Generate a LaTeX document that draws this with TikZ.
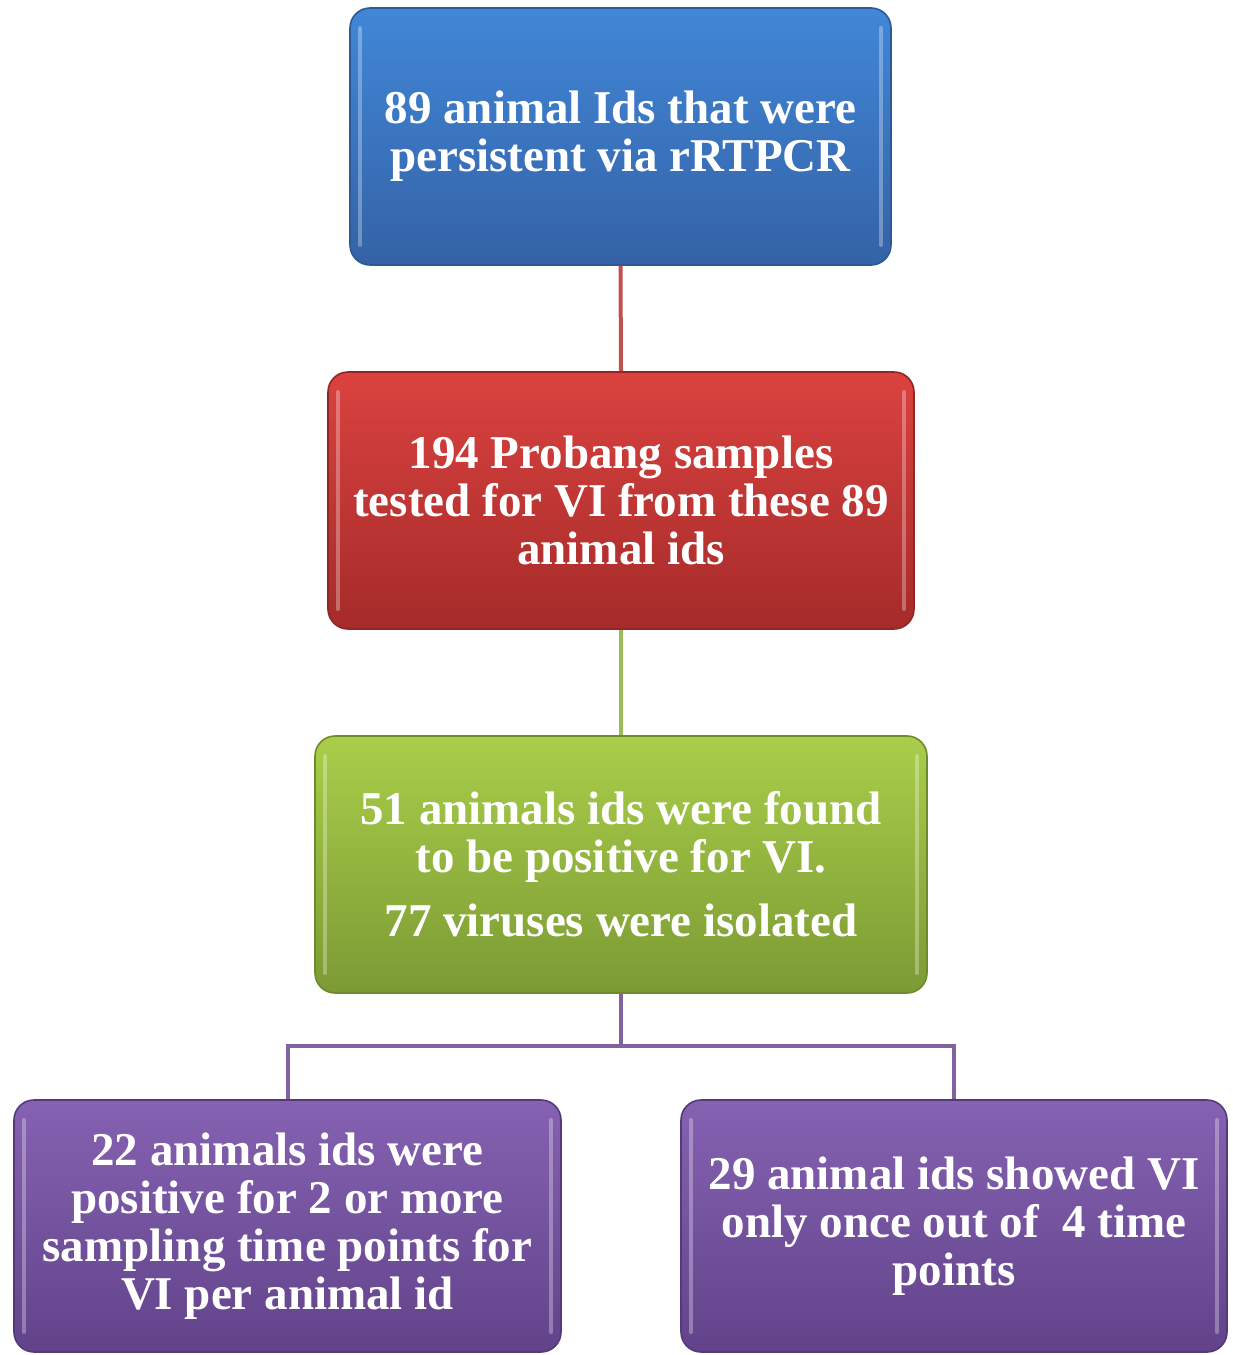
\documentclass[tikz,border=0pt]{standalone}
\usepackage{fontspec}
\setmainfont{Liberation Serif}
\usetikzlibrary{positioning}
\definecolor{bTop}{HTML}{4187D8}\definecolor{bBot}{HTML}{3462A6}\definecolor{bEdge}{HTML}{2C5A96}
\definecolor{rTop}{HTML}{DA423F}\definecolor{rBot}{HTML}{A52B2A}\definecolor{rEdge}{HTML}{922624}
\definecolor{gTop}{HTML}{A9CE4A}\definecolor{gBot}{HTML}{7C9A34}\definecolor{gEdge}{HTML}{6E8A2C}
\definecolor{pTop}{HTML}{8562B2}\definecolor{pBot}{HTML}{62438A}\definecolor{pEdge}{HTML}{553A7A}
\definecolor{rLine}{HTML}{C0504D}\definecolor{gLine}{HTML}{9BBB59}\definecolor{pLine}{HTML}{8064A2}
\tikzset{
  box/.style={rounded corners=10pt, line width=0.8pt, text=white, align=center,
    font=\fontsize{23.5}{24}\selectfont\bfseries, inner sep=0pt,
    path picture={
      \draw[white, opacity=0.3, line width=2pt, line cap=round]
        ([xshift=5pt,yshift=-10pt]path picture bounding box.north west) --
        ([xshift=5pt,yshift=10pt]path picture bounding box.south west);
      \draw[white, opacity=0.3, line width=2pt, line cap=round]
        ([xshift=-5pt,yshift=-10pt]path picture bounding box.north east) --
        ([xshift=-5pt,yshift=10pt]path picture bounding box.south east);
    }},
  bluebox/.style={box, draw=bEdge, top color=bTop, bottom color=bBot},
  redbox/.style={box, draw=rEdge, top color=rTop, bottom color=rBot},
  greenbox/.style={box, draw=gEdge, top color=gTop, bottom color=gBot},
  purplebox/.style={box, draw=pEdge, top color=pTop, bottom color=pBot},
  conn/.style={line width=2pt}
}
\begin{document}
\begin{tikzpicture}[x=0.5pt,y=-0.5pt]
\useasboundingbox (0,0) rectangle (1232,1355);
\node[bluebox, minimum width=270.5pt, minimum height=128.5pt] (blue) at (620.5,136.5)
  {89 animal Ids that were\\persistent via rRTPCR};
\node[redbox, minimum width=293pt, minimum height=128.5pt] (red) at (621,500.5)
  {194 Probang samples\\tested for VI from these 89\\animal ids};
\node[greenbox, minimum width=306pt, minimum height=128.5pt] (green) at (621,864.5)
  {51 animals ids were found\\to be positive for VI.\\[8pt]77 viruses were isolated};
\node[purplebox, minimum width=273.5pt, minimum height=126pt] (left) at (287.5,1226)
  {22 animals ids were\\positive for 2 or more\\sampling time points for\\VI per animal id};
\node[purplebox, minimum width=273pt, minimum height=126pt] (right) at (954,1226)
  {29 animal ids showed VI\\only once out of\ \ 4 time\\points};
\coordinate (mid) at (621,1046);
\draw[conn, rLine] (blue.south) -- (red.north);
\draw[conn, gLine] (red.south) -- (green.north);
\draw[conn, pLine] (green.south) -- (mid) -| (left.north);
\draw[conn, pLine] (mid) -| (right.north);
\end{tikzpicture}
\end{document}
